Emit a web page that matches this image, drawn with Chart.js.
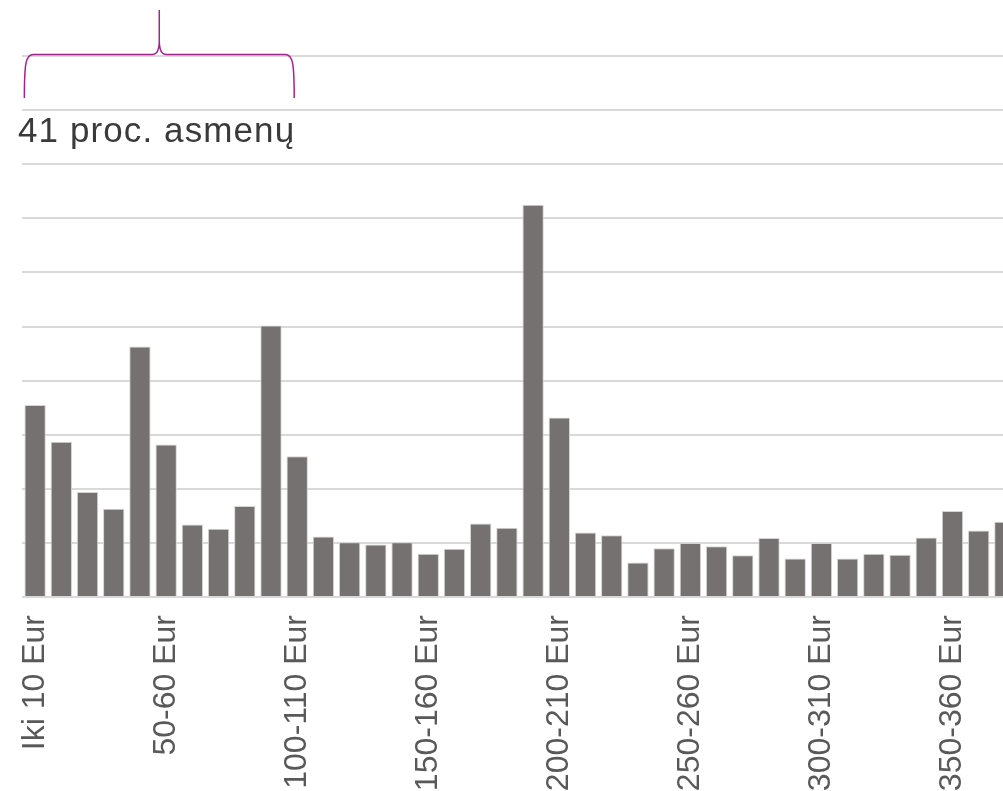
<!DOCTYPE html>
<html>
<head>
<meta charset="utf-8">
<script src="https://cdn.jsdelivr.net/npm/chart.js@4/dist/chart.umd.min.js"></script>
<style>
    html, body { margin: 0; padding: 0; overflow: hidden; background: #fff; }
    #wrap { position: absolute; left: 0; top: 0; width: 1018px; height: 837px; }
</style>
</head>
<body>
<div id="wrap"><canvas id="myChart"></canvas></div>
<script>
const categories = [
    'Iki 10 Eur', '10-20 Eur', '20-30 Eur', '30-40 Eur', '40-50 Eur',
    '50-60 Eur', '60-70 Eur', '70-80 Eur', '80-90 Eur', '90-100 Eur',
    '100-110 Eur', '110-120 Eur', '120-130 Eur', '130-140 Eur', '140-150 Eur',
    '150-160 Eur', '160-170 Eur', '170-180 Eur', '180-190 Eur', '190-200 Eur',
    '200-210 Eur', '210-220 Eur', '220-230 Eur', '230-240 Eur', '240-250 Eur',
    '250-260 Eur', '260-270 Eur', '270-280 Eur', '280-290 Eur', '290-300 Eur',
    '300-310 Eur', '310-320 Eur', '320-330 Eur', '330-340 Eur', '340-350 Eur',
    '350-360 Eur', '360-370 Eur', '370-380 Eur'
];

const shares = [
    3.55, 2.87, 1.94, 1.63, 4.63, 2.82, 1.34, 1.26, 1.68, 5.02,
    2.60, 1.12, 1.01, 0.97, 1.01, 0.80, 0.89, 1.36, 1.28, 7.25,
    3.32, 1.19, 1.14, 0.64, 0.90, 1.00, 0.94, 0.77, 1.09, 0.71,
    1.00, 0.71, 0.80, 0.78, 1.10, 1.59, 1.23, 1.39
];

const bracketText = '41 proc. asmenų';
const bracketFrom = 0;
const bracketTo = 10;

// curly bracket above the first bars
const bracketPlugin = {
    id: 'bracket',
    afterDraw(chart) {
        const ctx = chart.ctx;
        const x = chart.scales.x;
        const area = chart.chartArea;
        const step = x.getPixelForValue(1) - x.getPixelForValue(0);

        const L = x.getPixelForValue(bracketFrom) - step * 0.41;
        const R = x.getPixelForValue(bracketTo) - 3;
        const C = (L + R) / 2;
        const top = area.top - 1.5;
        const bot = area.top + 42;
        const spike = area.top - 46;

        ctx.save();
        ctx.strokeStyle = '#a3238e';
        ctx.lineWidth = 1.5;
        ctx.beginPath();
        ctx.moveTo(L, bot);
        ctx.bezierCurveTo(L, top + 8, L + 1.5, top, L + 9, top);
        ctx.lineTo(C - 7, top);
        ctx.quadraticCurveTo(C, top, C, top - 14);
        ctx.lineTo(C, spike);
        ctx.moveTo(C, top - 14);
        ctx.quadraticCurveTo(C, top, C + 7, top);
        ctx.lineTo(R - 9, top);
        ctx.bezierCurveTo(R - 1.5, top, R, top + 8, R, bot);
        ctx.stroke();

        ctx.fillStyle = '#3a3a3a';
        ctx.font = '35px "Liberation Sans", Arial, sans-serif';
        ctx.letterSpacing = '1.1px';
        ctx.textBaseline = 'alphabetic';
        ctx.textAlign = 'left';
        ctx.fillText(bracketText, 18, area.top + 85.5);
        ctx.restore();
    }
};

const ctx = document.getElementById('myChart');

new Chart(ctx, {
    type: 'bar',
    data: {
        labels: categories,
        datasets: [{
            data: shares,
            backgroundColor: '#767171',
            borderColor: '#d6d4d4',
            borderWidth: 1,
            categoryPercentage: 1,
            barPercentage: 0.815
        }]
    },
    options: {
        responsive: true,
        maintainAspectRatio: false,
        animation: false,
        layout: {
            padding: { top: 56, left: 22, right: 0, bottom: 0 }
        },
        plugins: {
            legend: { display: false },
            tooltip: { enabled: false }
        },
        scales: {
            x: {
                grid: { display: false, drawTicks: false },
                border: { display: false },
                ticks: {
                    autoSkip: false,
                    maxRotation: 90,
                    minRotation: 90,
                    padding: 18,
                    color: '#595959',
                    font: { family: '"Liberation Sans", Arial, sans-serif', size: 32 },
                    callback: (value, index) => index % 5 === 0 ? categories[index] : ''
                },
                afterFit: (scale) => {
                    scale.height = 240;
                    scale.paddingLeft = 0;
                    scale.paddingRight = 0;
                }
            },
            y: {
                min: 0,
                max: 10,
                grid: { color: '#d9d9d9', lineWidth: 2, drawTicks: false },
                border: { display: false },
                ticks: { display: false, stepSize: 1 }
            }
        }
    },
    plugins: [bracketPlugin]
});
</script>
</body>
</html>
